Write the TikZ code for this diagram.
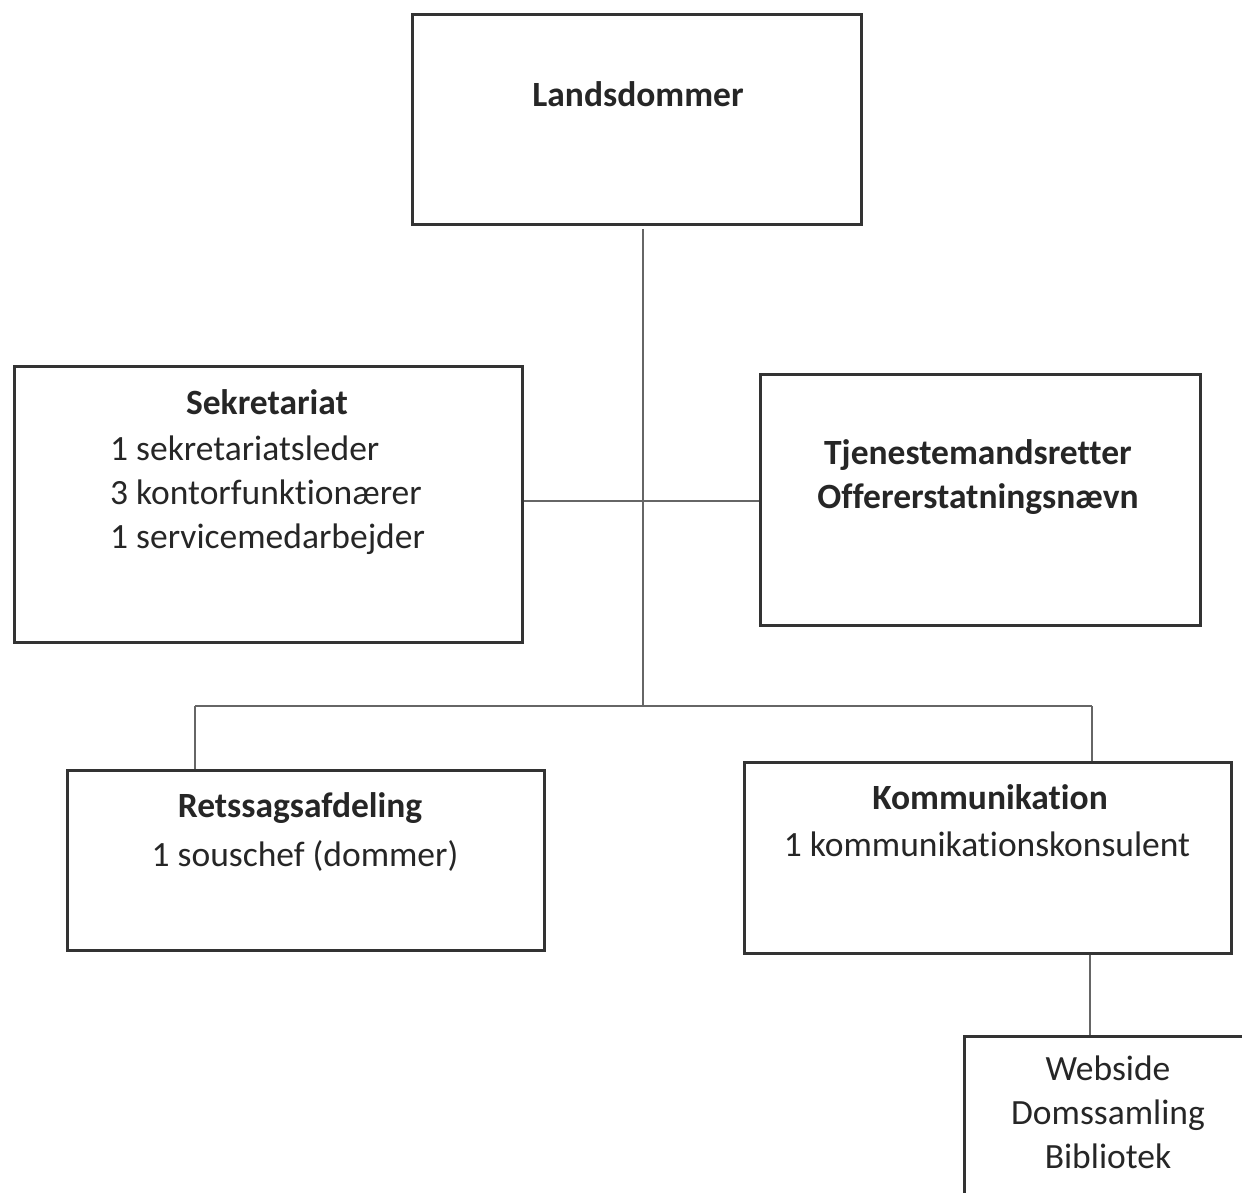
\documentclass[tikz,border=0pt]{standalone}
\usepackage{fontspec}
\setmainfont{Carlito}[Ligatures=NoCommon]
\begin{document}
\begin{tikzpicture}[x=1pt,y=-1pt,
  box/.style={draw=black!80,line width=2.6pt,inner sep=0pt,anchor=north west},
  conn/.style={draw=black!60,line width=1.8pt},
  txt/.style={inner sep=0pt,anchor=base,font=\fontsize{35.5pt}{44pt}\selectfont,text=black!85},
  ttl/.style={txt,font=\fontsize{35.5pt}{44pt}\selectfont\bfseries}]
\useasboundingbox (0,0) rectangle (1242,1193);
\begin{scope}
\clip (0,0) rectangle (1242,1193);
\node[box,minimum width=449pt,minimum height=210pt] (land) at (411,13) {};
\node[box,minimum width=508pt,minimum height=276pt] (sek) at (13,365) {};
\node[box,minimum width=440pt,minimum height=251pt] (tje) at (759,373) {};
\node[box,minimum width=477pt,minimum height=180pt] (ret) at (66,769) {};
\node[box,minimum width=487pt,minimum height=191pt] (kom) at (743,761) {};
\node[box,minimum width=320pt,minimum height=200pt] (web) at (963,1035) {};
\end{scope}

\node[ttl] (t1) at (638,107) {Landsdommer};
\node[ttl] (t2) at (267,414) {Sekretariat};
\node[txt,anchor=base west,align=left] (t3) at (110,548) {1 sekretariatsleder\\3 kontorfunktionærer\\1 servicemedarbejder};
\node[ttl,align=center] (t4) at (978,508) {Tjenestemandsretter\\Offererstatningsnævn};
\node[ttl] (t5) at (300,817) {Retssagsafdeling};
\node[txt] (t6) at (305,866) {1 souschef (dommer)};
\node[ttl] (t7) at (990,809) {Kommunikation};
\node[txt] (t8) at (987,856) {1 kommunikationskonsulent};
\node[txt,align=center] (t9) at (1108,1168) {Webside\\Domssamling\\Bibliotek};

\coordinate (top) at (643,229);
\coordinate (mid) at (643,706);
\coordinate (hl) at (195,706);
\coordinate (hr) at (1092,706);
\draw[conn] (top) -- (mid);
\draw[conn] (sek.east |- 0,501) -- (tje.west |- 0,501);
\draw[conn] (hl) -- (hr);
\draw[conn] (hl) -- (hl |- ret.north);
\draw[conn] (hr) -- (hr |- kom.north);
\draw[conn] (kom.south -| 1090,0) -- (web.north -| 1090,0);
\end{tikzpicture}
\end{document}
